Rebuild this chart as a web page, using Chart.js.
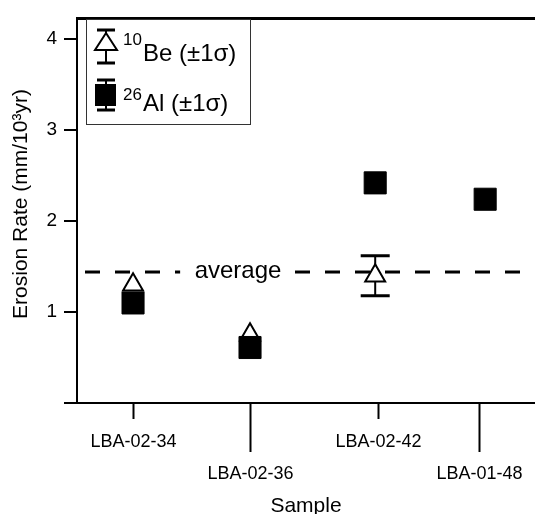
<!DOCTYPE html>
<html>
<head>
<meta charset="utf-8">
<script src="https://cdn.jsdelivr.net/npm/chart.js@4.4.0/dist/chart.umd.min.js"></script>
<style>
  html, body { margin: 0; padding: 0; background: #fff; }
  #wrap { width: 535px; height: 514px; position: relative; }
</style>
</head>
<body>
<div id="wrap"><canvas id="c" width="535" height="514"></canvas></div>
<script>
// ---- data ----
const samples = ['LBA-02-34', 'LBA-02-36', 'LBA-02-42', 'LBA-01-48'];
const samplePos = [1, 2, 3.09, 3.96];
const beX = [1, 2, 3.07];
const beRate = [1.30, 0.75, 1.40];
const beErr = [null, null, 0.22];
const alX = [1, 2, 3.07, 4.01];
const alRate = [1.10, 0.61, 2.42, 2.24];
const alErr = [null, null, null, null];
const averageRate = 1.44;
const yTickValues = [0, 1, 2, 3, 4];
const yTitle = 'Erosion Rate (mm/10\u00B3yr)';
const xTitle = 'Sample';
const averageLabel = 'average';

const FONT = '"Liberation Sans", Arial, Helvetica, sans-serif';

const beData = beX.map((x, i) => ({ x: x, y: beRate[i], err: beErr[i] }));
const alData = alX.map((x, i) => ({ x: x, y: alRate[i], err: alErr[i] }));

function drawErrorBar(ctx, cx, yTop, yBot, capW) {
  ctx.save();
  ctx.strokeStyle = '#000';
  ctx.lineWidth = 2;
  ctx.beginPath();
  ctx.moveTo(cx, yTop); ctx.lineTo(cx, yBot);
  ctx.stroke();
  ctx.lineWidth = 3;
  ctx.beginPath();
  ctx.moveTo(cx - capW / 2, yTop); ctx.lineTo(cx + capW / 2, yTop);
  ctx.moveTo(cx - capW / 2, yBot); ctx.lineTo(cx + capW / 2, yBot);
  ctx.stroke();
  ctx.restore();
}

const decorPlugin = {
  id: 'decor',
  beforeDatasetsDraw(chart) {
    const { ctx, chartArea, scales } = chart;
    const xs = scales.x, ys = scales.y;
    // average dashed line
    const ay = ys.getPixelForValue(averageRate);
    ctx.save();
    ctx.strokeStyle = '#000';
    ctx.lineWidth = 3;
    ctx.setLineDash([15, 15]);
    ctx.lineDashOffset = -(85 - chartArea.left);
    ctx.beginPath();
    ctx.moveTo(chartArea.left, ay);
    ctx.lineTo(chartArea.right, ay);
    ctx.stroke();
    ctx.setLineDash([]);
    // label with white background
    ctx.font = '24px ' + FONT;
    const lx = 238;
    const tw = ctx.measureText(averageLabel).width;
    ctx.fillStyle = '#fff';
    ctx.fillRect(lx - tw / 2 - 58 / 4, ay - 14, tw + 58 / 2 - 4, 28);
    ctx.fillStyle = '#000';
    ctx.textAlign = 'center';
    ctx.textBaseline = 'middle';
    ctx.fillText(averageLabel, lx, ay - 1);
    ctx.restore();
    // error bars
    [[beData], [alData]].forEach(([d]) => {
      d.forEach(p => {
        if (p.err) {
          const cx = xs.getPixelForValue(p.x);
          drawErrorBar(ctx, cx, ys.getPixelForValue(p.y + p.err), ys.getPixelForValue(p.y - p.err), 29);
        }
      });
    });
  },
  afterDraw(chart) {
    const { ctx, chartArea, scales } = chart;
    const xs = scales.x;
    ctx.save();
    // top frame line
    ctx.strokeStyle = '#000';
    ctx.lineWidth = 3;
    ctx.beginPath();
    ctx.moveTo(chartArea.left - 1, chartArea.top);
    ctx.lineTo(chartArea.right, chartArea.top);
    ctx.stroke();
    // x ticks and labels (alternating)
    ctx.lineWidth = 2;
    ctx.font = '18px ' + FONT;
    ctx.fillStyle = '#000';
    ctx.textAlign = 'center';
    ctx.textBaseline = 'middle';
    samples.forEach((s, i) => {
      const px = Math.round(xs.getPixelForValue(samplePos[i])) + 0.5;
      const long = i % 2 === 1;
      ctx.beginPath();
      ctx.moveTo(px, chartArea.bottom);
      ctx.lineTo(px, chartArea.bottom + (long ? 49 : 16));
      ctx.stroke();
      ctx.fillText(s, px, long ? 474 : 442);
    });
    // axis titles
    ctx.font = '21px ' + FONT;
    ctx.fillText(xTitle, 306, 506);
    ctx.save();
    ctx.translate(21, 204);
    ctx.rotate(-Math.PI / 2);
    ctx.font = '21px ' + FONT;
    ctx.fillText(yTitle, 0, 0);
    ctx.restore();
    // legend
    ctx.lineWidth = 1;
    ctx.strokeStyle = '#333';
    ctx.strokeRect(86.5, 19.5, 164, 105);
    // Be entry
    drawErrorBar(ctx, 106, 30, 63, 18);
    ctx.fillStyle = '#fff';
    ctx.strokeStyle = '#000';
    ctx.lineWidth = 2;
    ctx.beginPath();
    ctx.moveTo(106, 33); ctx.lineTo(117, 50); ctx.lineTo(95, 50); ctx.closePath();
    ctx.fill(); ctx.stroke();
    // Al entry
    drawErrorBar(ctx, 106, 80, 110, 18);
    ctx.fillStyle = '#000';
    ctx.fillRect(95, 84, 21, 22);
    ctx.textAlign = 'left';
    ctx.textBaseline = 'alphabetic';
    ctx.font = '17px ' + FONT;
    ctx.fillText('10', 123, 45);
    ctx.fillText('26', 123, 100);
    ctx.font = '24px ' + FONT;
    ctx.fillText('Be (\u00B11\u03C3)', 143, 61);
    ctx.fillText('Al (\u00B11\u03C3)', 143, 111);
    ctx.restore();
  }
};

new Chart(document.getElementById('c'), {
  type: 'scatter',
  data: {
    datasets: [
      {
        label: '26Al',
        data: alData,
        order: 0,
        pointStyle: 'rect',
        pointRadius: 15.6,
        pointHoverRadius: 15.6,
        backgroundColor: '#000',
        borderColor: '#000',
        borderWidth: 1
      },
      {
        label: '10Be',
        data: beData,
        order: 1,
        pointStyle: 'triangle',
        pointRadius: 11.5,
        pointHoverRadius: 11.5,
        backgroundColor: '#fff',
        borderColor: '#000',
        borderWidth: 2
      }
    ]
  },
  options: {
    responsive: false,
    animation: false,
    events: [],
    layout: { autoPadding: false, padding: { top: 14, right: 0, left: 0, bottom: 0 } },
    plugins: { legend: { display: false }, tooltip: { enabled: false } },
    scales: {
      x: {
        type: 'linear',
        min: 0.521,
        max: 4.436,
        grid: { display: false },
        border: { display: true, color: '#000', width: 2 },
        ticks: { display: false },
        afterFit(scale) { scale.height = 111; }
      },
      y: {
        type: 'linear',
        min: 0,
        max: 4.228,
        afterBuildTicks(scale) { scale.ticks = yTickValues.map(v => ({ value: v })); },
        grid: { display: true, drawOnChartArea: false, drawTicks: true, tickLength: 13, color: '#000', lineWidth: 2 },
        border: { display: true, color: '#000', width: 2 },
        ticks: {
          color: '#000',
          padding: 7,
          font: { family: FONT, size: 19 },
          callback: (v) => (v === 0 ? '' : String(v))
        },
        afterFit(scale) { scale.width = 77; }
      }
    }
  },
  plugins: [decorPlugin]
});
</script>
</body>
</html>
